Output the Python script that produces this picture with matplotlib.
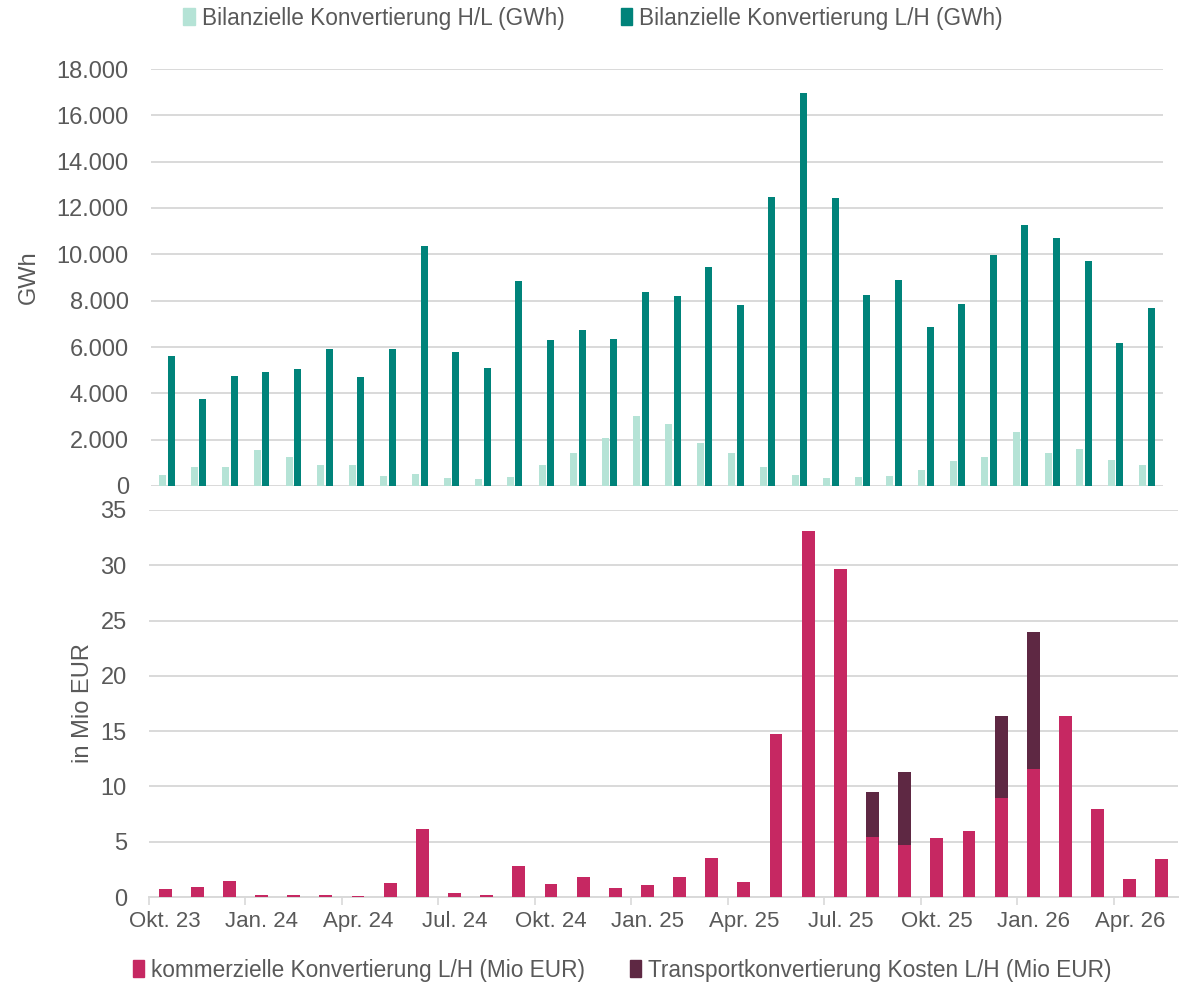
import matplotlib
matplotlib.use("Agg")
import matplotlib.pyplot as plt
import numpy as np
from matplotlib.patches import Patch

months = ["Okt. 23", "Nov. 23", "Dez. 23", "Jan. 24", "Feb. 24", "Mär. 24", "Apr. 24", "Mai 24",
          "Jun. 24", "Jul. 24", "Aug. 24", "Sep. 24", "Okt. 24", "Nov. 24", "Dez. 24", "Jan. 25",
          "Feb. 25", "Mär. 25", "Apr. 25", "Mai 25", "Jun. 25", "Jul. 25", "Aug. 25", "Sep. 25",
          "Okt. 25", "Nov. 25", "Dez. 25", "Jan. 26", "Feb. 26", "Mär. 26", "Apr. 26", "Mai 26"]

hl_gwh = [490, 820, 800, 1570, 1270, 920, 900, 420, 520, 330, 320, 390, 920, 1440, 2070, 3030,
          2660, 1870, 1440, 830, 490, 330, 370, 450, 700, 1090, 1270, 2320, 1410, 1600, 1140, 900]
lh_gwh = [5610, 3750, 4730, 4910, 5040, 5910, 4700, 5910, 10360, 5800, 5080, 8850, 6310, 6750, 6330, 8360,
          8200, 9440, 7800, 12470, 16950, 12430, 8230, 8880, 6850, 7850, 9960, 11250, 10690, 9700, 6170, 7670]

kommerziell = [0.69, 0.87, 1.47, 0.21, 0.20, 0.22, 0.12, 1.26, 6.17, 0.36, 0.22, 2.76, 1.17, 1.81, 0.84, 1.11,
               1.81, 3.49, 1.36, 14.72, 33.06, 29.68, 5.45, 4.70, 5.38, 5.96, 8.97, 11.59, 16.40, 7.98, 1.65, 3.42]
transport = [0, 0, 0, 0, 0, 0, 0, 0, 0, 0, 0, 0, 0, 0, 0, 0,
             0, 0, 0, 0, 0, 0, 4.06, 6.62, 0, 0, 7.43, 12.38, 0, 0, 0, 0]

top_ticks = [0, 2000, 4000, 6000, 8000, 10000, 12000, 14000, 16000, 18000]
bot_ticks = [0, 5, 10, 15, 20, 25, 30, 35]

C_HL = "#B5E3D6"
C_LH = "#00837A"
C_KOM = "#C62862"
C_TRA = "#5E2843"
GRID = "#D9D9D9"
TXT = "#595959"

plt.rcParams['font.family'] = ['Liberation Sans', 'DejaVu Sans']
FS = 16
FSY = 17

W, H = 1186, 991
fig = plt.figure(figsize=(W / 100, H / 100), dpi=100)

def ax_rect(x0, y0, x1, y1):
    return [x0 / W, 1 - y1 / H, (x1 - x0) / W, (y1 - y0) / H]

ax1 = fig.add_axes(ax_rect(151, 69, 1163, 486))
ax2 = fig.add_axes(ax_rect(149, 510, 1178, 897))

x = np.arange(len(months))
bw = 0.22
ax1.bar(x - 0.135, hl_gwh, width=bw, color=C_HL, linewidth=0, zorder=3)
ax1.bar(x + 0.135, lh_gwh, width=bw, color=C_LH, linewidth=0, zorder=3)
ax1.set_xlim(-0.5, len(months) - 0.5)
ax1.set_ylim(0, 18000)
ax1.set_yticks(top_ticks)
ax1.set_yticklabels([f"{v:,}".replace(",", ".") for v in top_ticks])
ax1.set_xticks([])
ax1.set_ylabel("GWh", fontsize=FSY, color=TXT, labelpad=12)

ax2.bar(x, kommerziell, width=0.4, color=C_KOM, linewidth=0, zorder=3)
ax2.bar(x, transport, bottom=kommerziell, width=0.4, color=C_TRA, linewidth=0, zorder=3)
ax2.set_xlim(-0.5, len(months) - 0.5)
ax2.set_ylim(0, 35)
ax2.set_yticks(bot_ticks)
ax2.set_ylabel("in Mio EUR", fontsize=FSY, color=TXT, labelpad=5)
ax2.set_xticks(x[::3])
ax2.set_xticklabels(months[::3])
ax2.set_xticks(np.arange(-0.5, len(months), 3), minor=True)
ax2.tick_params(axis="x", which="major", length=0, pad=10, labelsize=FS, labelcolor=TXT)
ax2.tick_params(axis="x", which="minor", length=6, width=1.2, color=GRID)

for ax in (ax1, ax2):
    for s in ax.spines.values():
        s.set_visible(False)
    ax.grid(axis="y", color=GRID, linewidth=1.4, zorder=0)
    ax.set_axisbelow(True)
    ax.tick_params(axis="y", length=0, pad=16, labelsize=FSY, labelcolor=TXT)
ax2.spines["bottom"].set_visible(True)
ax2.spines["bottom"].set_color(GRID)
ax2.spines["bottom"].set_linewidth(1.4)

leg1 = fig.legend(handles=[Patch(color=C_HL, label="Bilanzielle Konvertierung H/L (GWh)"),
                           Patch(color=C_LH, label="Bilanzielle Konvertierung L/H (GWh)")],
                  loc="center", bbox_to_anchor=(593 / W, 1 - 18 / H), ncol=2, frameon=False,
                  fontsize=16.3, handlelength=0.5, handleheight=0.75, handletextpad=0.3,
                  columnspacing=2.5, labelcolor=TXT)
leg2 = fig.legend(handles=[Patch(color=C_KOM, label="kommerzielle Konvertierung L/H (Mio EUR)"),
                           Patch(color=C_TRA, label="Transportkonvertierung Kosten L/H (Mio EUR)")],
                  loc="center", bbox_to_anchor=(622 / W, 1 - 970 / H), ncol=2, frameon=False,
                  fontsize=16.3, handlelength=0.5, handleheight=0.75, handletextpad=0.3,
                  columnspacing=2.0, labelcolor=TXT)

fig.savefig("out.png", dpi=100)
